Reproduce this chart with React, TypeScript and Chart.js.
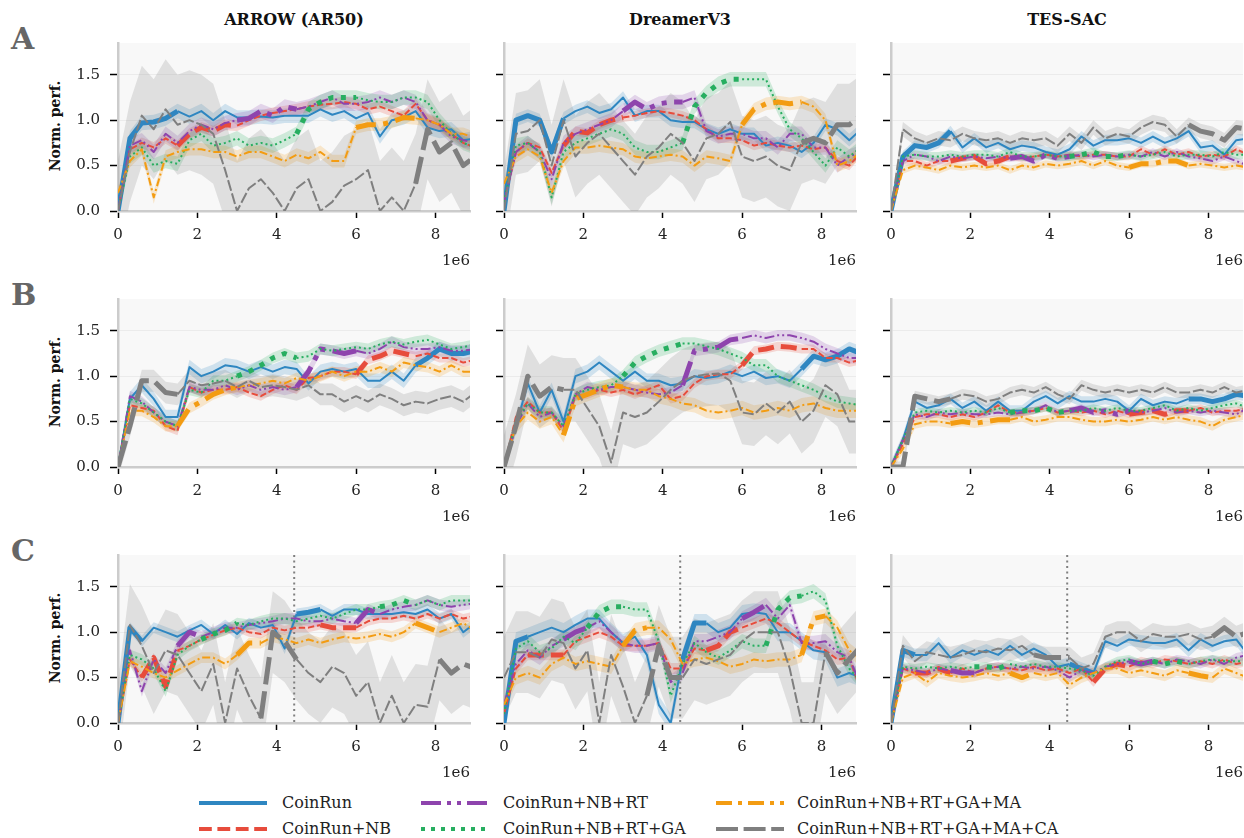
import React, { useEffect, useRef } from "react";
import { Chart, registerables } from "chart.js";

Chart.register(...registerables);

// ---------- data ----------
const XS = [0, 0.3, 0.6, 0.9, 1.2, 1.5, 1.8, 2.1, 2.4, 2.7, 3.0, 3.3, 3.6, 3.9, 4.2, 4.5, 4.8, 5.1, 5.4, 5.7, 6.0, 6.3, 6.6, 6.9, 7.2, 7.5, 7.8, 8.1, 8.4, 8.7, 9.0];
const SERIES_NAMES = ["CoinRun", "CoinRun+NB", "CoinRun+NB+RT", "CoinRun+NB+RT+GA", "CoinRun+NB+RT+GA+MA", "CoinRun+NB+RT+GA+MA+CA"];
const COL_TITLES = ["ARROW (AR50)", "DreamerV3", "TES-SAC"];
const ROW_LABELS = ["A", "B", "C"];
const Y_TICKS = [0, 0.5, 1.0, 1.5];
const X_TICKS = [0, 2, 4, 6, 8];
const SWITCH_X = 4.44;

// order: CoinRun, +NB, +RT, +GA, +MA, +CA
const A1 = [
  [0, 0.8, 0.97, 0.98, 1.02, 1.1, 1.04, 1.1, 1.0, 1.1, 1.03, 1.03, 1.04, 1.03, 1.05, 1.05, 1.05, 1.12, 1.06, 1.1, 1.02, 1.08, 0.82, 1.0, 1.03, 1.1, 0.92, 0.88, 0.9, 0.78, 0.8],
  [0, 0.68, 0.75, 0.7, 0.8, 0.72, 0.85, 0.92, 0.88, 0.95, 0.94, 1.0, 1.05, 1.08, 1.1, 1.12, 1.15, 1.17, 1.18, 1.2, 1.18, 1.12, 1.15, 1.1, 1.05, 1.18, 1.0, 0.95, 0.85, 0.75, 0.7],
  [0, 0.72, 0.78, 0.65, 0.85, 0.75, 0.88, 0.95, 0.9, 0.97, 1.0, 1.02, 1.1, 1.05, 1.15, 1.12, 1.15, 1.2, 1.25, 1.18, 1.18, 1.2, 1.25, 1.2, 1.25, 1.2, 1.0, 0.95, 0.82, 0.78, 0.75],
  [0, 0.6, 0.7, 0.5, 0.55, 0.52, 0.78, 0.85, 0.72, 0.75, 0.8, 0.72, 0.75, 0.72, 0.78, 0.85, 1.12, 1.2, 1.25, 1.25, 1.25, 1.22, 1.2, 1.2, 1.25, 1.25, 1.2, 1.0, 0.85, 0.75, 0.7],
  [0.2, 0.55, 0.68, 0.15, 0.6, 0.65, 0.68, 0.68, 0.65, 0.65, 0.6, 0.65, 0.65, 0.6, 0.55, 0.62, 0.58, 0.65, 0.55, 0.55, 0.92, 0.95, 0.95, 0.98, 1.03, 1.02, 1.0, 0.95, 0.85, 0.85, 0.8],
  [0, 0.65, 1.05, 0.9, 1.12, 0.95, 1.0, 0.95, 0.85, 0.45, 0, 0.25, 0.35, 0.2, 0, 0.25, 0.35, 0, 0.1, 0.28, 0.35, 0.45, 0, 0.15, 0, 0.3, 0.9, 0.65, 0.75, 0.5, 0.6],
];
const A2 = [
  [0, 1.0, 1.05, 1.0, 0.65, 1.02, 1.1, 1.15, 1.08, 1.12, 1.25, 1.05, 1.1, 1.1, 1.0, 0.98, 0.98, 0.9, 0.85, 0.9, 0.85, 0.85, 0.72, 0.75, 0.72, 0.65, 0.75, 0.95, 0.9, 0.78, 0.9],
  [0.1, 0.65, 0.75, 0.7, 0.42, 0.72, 0.88, 0.86, 0.95, 1.0, 1.03, 1.05, 1.08, 1.1, 1.08, 1.05, 1.0, 0.9, 0.8, 0.8, 0.78, 0.72, 0.75, 0.72, 0.7, 0.72, 0.68, 0.7, 0.55, 0.5, 0.65],
  [0.1, 0.65, 0.75, 0.65, 0.35, 0.75, 0.85, 0.9, 0.95, 1.0, 1.1, 1.2, 1.12, 1.18, 1.2, 1.2, 1.25, 0.88, 0.82, 0.85, 0.85, 0.8, 0.8, 0.7, 0.85, 0.85, 0.7, 0.7, 0.5, 0.6, 0.65],
  [0.1, 0.72, 0.75, 0.65, 0.15, 0.65, 0.75, 0.8, 0.85, 0.9, 0.85, 0.7, 0.65, 0.65, 0.7, 0.75, 1.15, 1.3, 1.4, 1.45, 1.45, 1.45, 1.45, 1.15, 0.9, 0.8, 0.65, 0.5, 0.7, 0.6, 0.7],
  [0.3, 0.6, 0.68, 0.6, 0.2, 0.55, 0.7, 0.7, 0.72, 0.7, 0.68, 0.6, 0.58, 0.6, 0.62, 0.6, 0.5, 0.6, 0.58, 0.55, 0.95, 1.12, 1.18, 1.2, 1.18, 1.2, 1.15, 1.0, 0.5, 0.55, 0.65],
  [0, 0.85, 0.88, 1.0, 0.5, 1.0, 0.6, 0.75, 0.85, 0.7, 0.55, 0.4, 0.6, 0.7, 0.85, 0.75, 0.55, 0.8, 0.85, 0.98, 0.6, 0.55, 0.6, 0.5, 0.45, 0.75, 0.8, 0.75, 0.95, 0.95, 1.05],
];
const A3 = [
  [0, 0.6, 0.72, 0.7, 0.75, 0.88, 0.7, 0.8, 0.7, 0.75, 0.68, 0.72, 0.7, 0.65, 0.62, 0.68, 0.82, 0.72, 0.78, 0.78, 0.8, 0.75, 0.82, 0.75, 0.8, 0.88, 0.7, 0.72, 0.62, 0.78, 0.8],
  [0, 0.55, 0.55, 0.5, 0.55, 0.55, 0.58, 0.6, 0.52, 0.55, 0.6, 0.58, 0.6, 0.62, 0.6, 0.62, 0.6, 0.62, 0.62, 0.6, 0.6, 0.68, 0.62, 0.68, 0.62, 0.65, 0.6, 0.62, 0.6, 0.68, 0.62],
  [0, 0.55, 0.62, 0.6, 0.55, 0.6, 0.58, 0.6, 0.58, 0.6, 0.58, 0.6, 0.55, 0.62, 0.58, 0.6, 0.62, 0.6, 0.62, 0.6, 0.62, 0.6, 0.65, 0.6, 0.65, 0.6, 0.58, 0.55, 0.6, 0.55, 0.5],
  [0, 0.6, 0.62, 0.6, 0.6, 0.62, 0.6, 0.62, 0.62, 0.6, 0.65, 0.6, 0.6, 0.62, 0.6, 0.6, 0.62, 0.65, 0.6, 0.6, 0.62, 0.6, 0.62, 0.65, 0.6, 0.62, 0.62, 0.6, 0.65, 0.62, 0.62],
  [0, 0.45, 0.5, 0.48, 0.45, 0.5, 0.48, 0.5, 0.48, 0.5, 0.45, 0.5, 0.48, 0.52, 0.5, 0.52, 0.55, 0.5, 0.55, 0.5, 0.48, 0.52, 0.52, 0.55, 0.55, 0.5, 0.52, 0.5, 0.48, 0.5, 0.48],
  [0, 0.9, 0.8, 0.75, 0.8, 0.78, 0.85, 0.8, 0.78, 0.8, 0.75, 0.8, 0.78, 0.8, 0.72, 0.85, 0.75, 0.92, 0.8, 0.85, 0.82, 0.92, 0.98, 0.95, 0.82, 0.95, 0.88, 0.85, 0.78, 0.92, 0.9],
];
const B1 = [
  [0, 0.75, 0.9, 0.75, 0.55, 0.55, 1.1, 1.0, 1.05, 1.12, 1.1, 1.05, 1.1, 1.05, 1.1, 1.08, 0.92, 1.05, 1.08, 1.05, 1.08, 0.95, 0.95, 1.05, 0.95, 1.12, 1.2, 1.3, 1.25, 1.25, 1.28],
  [0, 0.68, 0.65, 0.62, 0.45, 0.4, 0.88, 0.82, 0.85, 0.85, 0.88, 0.82, 0.78, 0.85, 0.9, 0.85, 0.98, 1.0, 1.05, 1.05, 1.02, 1.18, 1.22, 1.28, 1.25, 1.22, 1.25, 1.2, 1.2, 1.15, 1.18],
  [0, 0.78, 0.72, 0.6, 0.5, 0.45, 0.88, 0.85, 0.85, 0.9, 0.85, 0.9, 0.85, 0.88, 0.85, 0.88, 1.05, 1.3, 1.28, 1.25, 1.28, 1.25, 1.3, 1.38, 1.32, 1.3, 1.3, 1.32, 1.28, 1.28, 1.3],
  [0, 0.75, 0.7, 0.6, 0.5, 0.45, 0.85, 0.82, 0.95, 0.95, 1.0, 1.05, 1.12, 1.2, 1.25, 1.2, 1.22, 1.3, 1.28, 1.3, 1.32, 1.3, 1.35, 1.38, 1.35, 1.38, 1.4, 1.35, 1.3, 1.32, 1.35],
  [0, 0.62, 0.62, 0.55, 0.45, 0.45, 0.65, 0.72, 0.8, 0.85, 0.88, 0.9, 0.92, 0.95, 0.92, 0.98, 0.95, 1.0, 1.05, 1.0, 1.05, 1.05, 1.1, 1.05, 1.15, 1.12, 1.1, 1.05, 1.12, 1.05, 1.05],
  [0, 0.45, 0.95, 0.95, 0.82, 0.8, 0.95, 0.9, 0.92, 0.95, 0.88, 0.95, 0.88, 0.9, 0.88, 0.85, 0.9, 0.8, 0.8, 0.72, 0.78, 0.72, 0.8, 0.75, 0.68, 0.72, 0.7, 0.75, 0.78, 0.72, 0.82],
];
const B2 = [
  [0, 0.45, 0.92, 0.6, 0.85, 0.5, 1.0, 1.05, 1.15, 1.05, 0.95, 1.05, 0.95, 0.95, 0.9, 0.92, 1.0, 0.98, 1.0, 1.05, 1.0, 1.05, 0.98, 1.0, 0.95, 1.08, 1.22, 1.18, 1.22, 1.3, 1.25],
  [0, 0.55, 0.72, 0.6, 0.6, 0.4, 0.78, 0.8, 0.85, 0.82, 0.85, 0.8, 0.85, 0.9, 0.75, 0.78, 0.92, 1.0, 1.02, 1.02, 1.12, 1.28, 1.3, 1.33, 1.32, 1.3, 1.3, 1.2, 1.2, 1.15, 1.18],
  [0, 0.45, 0.7, 0.55, 0.6, 0.45, 0.8, 0.88, 0.85, 0.88, 0.88, 0.85, 0.82, 0.8, 0.82, 0.9, 1.28, 1.3, 1.32, 1.4, 1.42, 1.45, 1.42, 1.45, 1.45, 1.42, 1.38, 1.3, 1.25, 1.2, 1.2],
  [0, 0.5, 0.7, 0.6, 0.6, 0.45, 0.8, 0.85, 0.88, 0.9, 1.0, 1.15, 1.22, 1.28, 1.32, 1.36, 1.36, 1.33, 1.3, 1.25, 1.2, 1.12, 1.12, 1.0, 0.95, 0.9, 0.85, 0.78, 0.72, 0.7, 0.68],
  [0, 0.45, 0.6, 0.5, 0.55, 0.35, 0.75, 0.8, 0.85, 0.9, 0.88, 0.85, 0.85, 0.78, 0.75, 0.7, 0.68, 0.62, 0.6, 0.62, 0.65, 0.6, 0.62, 0.65, 0.62, 0.68, 0.7, 0.65, 0.62, 0.62, 0.62],
  [0, 0.45, 1.0, 0.78, 0.88, 0.85, 0.85, 0.65, 0.45, 0.05, 0.6, 0.55, 0.6, 0.72, 0.85, 0.95, 1.0, 1.02, 1.03, 0.95, 0.6, 0.58, 0.7, 0.6, 0.72, 0.5, 0.62, 0.9, 0.8, 0.5, 0.5],
];
const B3 = [
  [0, 0.3, 0.72, 0.65, 0.68, 0.75, 0.65, 0.72, 0.62, 0.72, 0.62, 0.62, 0.72, 0.78, 0.7, 0.78, 0.72, 0.72, 0.75, 0.72, 0.62, 0.75, 0.68, 0.72, 0.7, 0.75, 0.75, 0.72, 0.75, 0.8, 0.78],
  [0, 0.25, 0.55, 0.58, 0.58, 0.55, 0.58, 0.55, 0.6, 0.68, 0.6, 0.6, 0.62, 0.65, 0.6, 0.62, 0.6, 0.62, 0.58, 0.62, 0.58, 0.6, 0.62, 0.58, 0.62, 0.62, 0.65, 0.6, 0.62, 0.62, 0.65],
  [0, 0.3, 0.58, 0.55, 0.6, 0.58, 0.6, 0.58, 0.58, 0.6, 0.58, 0.6, 0.62, 0.68, 0.6, 0.62, 0.65, 0.6, 0.62, 0.58, 0.62, 0.6, 0.62, 0.65, 0.6, 0.62, 0.6, 0.62, 0.6, 0.58, 0.65],
  [0, 0.3, 0.6, 0.62, 0.6, 0.62, 0.6, 0.62, 0.6, 0.65, 0.6, 0.62, 0.62, 0.65, 0.6, 0.62, 0.62, 0.65, 0.62, 0.65, 0.62, 0.62, 0.65, 0.68, 0.62, 0.65, 0.62, 0.65, 0.68, 0.7, 0.65],
  [0, 0.2, 0.47, 0.5, 0.5, 0.48, 0.5, 0.48, 0.5, 0.52, 0.52, 0.55, 0.5, 0.52, 0.55, 0.55, 0.52, 0.5, 0.5, 0.52, 0.5, 0.52, 0.55, 0.52, 0.55, 0.52, 0.5, 0.45, 0.52, 0.55, 0.58],
  [0, 0, 0.78, 0.75, 0.72, 0.75, 0.8, 0.78, 0.72, 0.75, 0.82, 0.85, 0.82, 0.88, 0.8, 0.75, 0.9, 0.85, 0.82, 0.85, 0.82, 0.85, 0.82, 0.88, 0.82, 0.82, 0.85, 0.82, 0.88, 0.82, 0.85],
];
const C1 = [
  [0, 1.05, 0.9, 1.05, 1.0, 0.95, 1.02, 1.08, 0.98, 1.08, 0.98, 1.1, 1.05, 1.08, 0.82, 1.2, 1.22, 1.25, 1.18, 1.25, 1.25, 1.2, 1.2, 1.2, 1.22, 1.2, 1.25, 1.15, 1.2, 1.0, 1.1],
  [0, 0.7, 0.5, 0.72, 0.4, 0.8, 0.85, 0.92, 0.97, 1.02, 1.05, 1.0, 0.98, 1.05, 1.02, 1.05, 1.05, 1.08, 1.05, 1.05, 1.05, 1.12, 1.15, 1.15, 1.18, 1.15, 1.2, 1.15, 1.2, 1.15, 1.18],
  [0, 0.8, 0.35, 0.7, 0.55, 0.85, 1.0, 0.95, 1.0, 1.05, 1.05, 1.08, 1.1, 1.12, 1.15, 1.15, 1.12, 1.12, 1.15, 1.12, 1.1, 1.25, 1.2, 1.25, 1.28, 1.3, 1.35, 1.3, 1.28, 1.3, 1.32],
  [0, 0.75, 0.7, 0.6, 0.35, 0.75, 0.85, 0.92, 0.98, 1.02, 1.1, 1.08, 1.12, 1.15, 1.15, 1.12, 1.15, 1.18, 1.15, 1.2, 1.25, 1.25, 1.28, 1.3, 1.35, 1.3, 1.35, 1.3, 1.35, 1.35, 1.35],
  [0, 0.68, 0.62, 0.55, 0.5, 0.58, 0.65, 0.72, 0.72, 0.65, 0.75, 0.88, 0.88, 0.95, 0.92, 0.88, 0.92, 0.88, 0.92, 0.95, 0.93, 0.95, 0.98, 0.95, 1.0, 1.1, 1.05, 1.0, 1.05, 1.1, 1.02],
  [0, 1.08, 0.85, 0.55, 0.8, 0.75, 0.55, 0.35, 0.65, 0, 0.6, 0.3, 0.05, 1.0, 0.9, 0.7, 0.55, 0.45, 0.62, 0.55, 0.3, 0.45, 0, 0.3, 0, 0.2, 0.18, 0.7, 0.55, 0.65, 0.6],
];
const C2 = [
  [0, 0.9, 0.95, 1.0, 1.05, 1.0, 1.08, 1.15, 1.15, 1.0, 0.88, 0.95, 0.75, 0.2, 0, 0.7, 1.1, 1.1, 1.0, 1.05, 1.2, 1.22, 1.2, 1.0, 1.0, 0.9, 0.8, 0.78, 0.5, 0.55, 0.5],
  [0.1, 0.6, 0.75, 0.75, 0.75, 0.75, 0.9, 0.95, 1.0, 0.95, 0.85, 0.85, 0.85, 0.88, 0.6, 0.6, 0.82, 0.8, 0.85, 1.0, 1.05, 1.1, 1.15, 1.1, 1.0, 0.9, 0.85, 0.8, 0.7, 0.72, 0.35],
  [0.2, 0.65, 0.8, 0.72, 0.85, 0.92, 1.0, 1.05, 1.12, 1.0, 0.88, 0.85, 0.85, 0.88, 0.45, 0.55, 0.9, 0.9, 0.95, 1.0, 1.15, 1.22, 1.3, 1.15, 1.3, 0.88, 0.88, 0.9, 0.78, 0.72, 0.4],
  [0.1, 0.82, 0.9, 0.78, 0.82, 0.95, 0.88, 1.05, 1.22, 1.28, 1.28, 1.25, 1.25, 0.9, 0.3, 0.65, 0.88, 0.78, 0.72, 0.8, 0.9, 0.85, 0.85, 1.25, 1.38, 1.4, 1.45, 1.35, 0.85, 0.6, 0.45],
  [0.2, 0.5, 0.55, 0.5, 0.65, 0.72, 0.65, 0.68, 0.65, 0.62, 0.85, 1.02, 1.05, 1.05, 0.92, 0.65, 0.7, 0.72, 0.68, 0.62, 0.65, 0.7, 0.68, 0.7, 0.7, 0.75, 1.15, 1.18, 1.05, 0.8, 0.7],
  [0.5, 0.78, 0.78, 0.72, 0.92, 0.88, 0.6, 0.8, 0, 0.75, 0.4, 0, 0.3, 0.85, 0.5, 0.5, 0.7, 0.65, 0.7, 0.75, 0.9, 1.0, 1.0, 1.0, 0.6, 0, 0, 0.78, 0.55, 0.7, 0.85],
];
const C3 = [
  [0, 0.8, 0.75, 0.75, 0.88, 0.72, 0.8, 0.75, 0.8, 0.75, 0.85, 0.75, 0.82, 0.75, 0.62, 0.65, 0.6, 0.55, 0.9, 0.85, 0.92, 0.9, 0.88, 0.88, 0.92, 0.8, 0.92, 0.85, 0.9, 0.92, 0.75],
  [0, 0.6, 0.55, 0.55, 0.6, 0.55, 0.6, 0.55, 0.6, 0.62, 0.6, 0.58, 0.62, 0.58, 0.6, 0.55, 0.6, 0.45, 0.6, 0.65, 0.62, 0.68, 0.65, 0.7, 0.68, 0.65, 0.68, 0.65, 0.7, 0.65, 0.68],
  [0, 0.6, 0.58, 0.55, 0.6, 0.58, 0.55, 0.55, 0.6, 0.62, 0.6, 0.62, 0.6, 0.62, 0.58, 0.5, 0.58, 0.55, 0.62, 0.65, 0.68, 0.65, 0.68, 0.65, 0.7, 0.68, 0.65, 0.7, 0.65, 0.72, 0.75],
  [0, 0.62, 0.6, 0.62, 0.6, 0.62, 0.6, 0.62, 0.62, 0.6, 0.65, 0.62, 0.65, 0.62, 0.62, 0.6, 0.58, 0.52, 0.62, 0.68, 0.7, 0.65, 0.68, 0.65, 0.68, 0.65, 0.68, 0.7, 0.68, 0.68, 0.68],
  [0, 0.5, 0.55, 0.45, 0.55, 0.52, 0.5, 0.52, 0.55, 0.52, 0.55, 0.5, 0.55, 0.52, 0.55, 0.42, 0.5, 0.55, 0.6, 0.6, 0.55, 0.58, 0.55, 0.52, 0.58, 0.55, 0.52, 0.5, 0.6, 0.55, 0.5],
  [0, 0.85, 0.68, 0.78, 0.75, 0.72, 0.75, 0.8, 0.78, 0.82, 0.8, 0.85, 0.75, 0.72, 0.72, 0.72, 0.6, 0.65, 0.95, 1.0, 1.0, 0.9, 0.98, 0.95, 0.95, 0.98, 0.92, 0.95, 1.05, 0.95, 1.0],
];

// half-width of the shaded band per series
const A1_SPREAD = [0.08, 0.06, 0.08, 0.08, 0.07, 0.55];
const A2_SPREAD = [0.07, 0.05, 0.08, 0.08, 0.07, 0.45];
const A3_SPREAD = [0.06, 0.04, 0.04, 0.05, 0.04, 0.08];
const B1_SPREAD = [0.08, 0.05, 0.06, 0.06, 0.06, 0.12];
const B2_SPREAD = [0.08, 0.05, 0.06, 0.07, 0.08, 0.35];
const B3_SPREAD = [0.06, 0.04, 0.04, 0.04, 0.05, 0.06];
const C1_SPREAD = [0.06, 0.05, 0.06, 0.06, 0.06, 0.45];
const C2_SPREAD = [0.1, 0.06, 0.08, 0.08, 0.08, 0.45];
const C3_SPREAD = [0.07, 0.05, 0.05, 0.05, 0.06, 0.12];

// training period of each task (drawn thick)
const SCHED_A = [[[0, 1.48]], [[1.48, 2.96]], [[2.96, 4.44]], [[4.44, 5.92]], [[5.92, 7.4]], [[7.4, 9.1]]];
const SCHED_B = [[[7.4, 9.1]], [[5.92, 7.4]], [[4.44, 5.92]], [[2.96, 4.44]], [[1.48, 2.96]], [[0, 1.48]]];
const SCHED_C = [
  [[0, 0.74], [4.44, 5.18]],
  [[0.74, 1.48], [5.18, 5.92]],
  [[1.48, 2.22], [5.92, 6.66]],
  [[2.22, 2.96], [6.66, 7.4]],
  [[2.96, 3.7], [7.4, 8.14]],
  [[3.7, 4.44], [8.14, 9.1]],
];

// ---------- style ----------
const COLORS = ["#2e86c1", "#e74c3c", "#8e44ad", "#27ae60", "#f39c12", "#7f7f7f"];
const DASHES = [[], [3.2, 1.4], [5, 1.5, 1, 1.5, 1, 1.5], [1, 1.5], [4, 1.5, 1, 1.5], [5.5, 1.4]];
const FONT = "'DejaVu Serif', serif";
const AREA_LEFT = [118, 504, 891];
const AREA_TOP = [41, 297, 553];
const AREA_W = 352;
const AREA_H = 170;
const PAD_L = 70, PAD_T = 6, PAD_R = 6, PAD_B = 44;
const TOP_EXTRA = 17; // measured offset between container top and plot area top
const X_MAX = 8.87, Y_MAX = 1.85;
const THIN = 2, THICK = 5;

const PANELS = [
  { row: 0, col: 0, curves: A1, spread: A1_SPREAD, sched: SCHED_A },
  { row: 0, col: 1, curves: A2, spread: A2_SPREAD, sched: SCHED_A },
  { row: 0, col: 2, curves: A3, spread: A3_SPREAD, sched: SCHED_A },
  { row: 1, col: 0, curves: B1, spread: B1_SPREAD, sched: SCHED_B },
  { row: 1, col: 1, curves: B2, spread: B2_SPREAD, sched: SCHED_B },
  { row: 1, col: 2, curves: B3, spread: B3_SPREAD, sched: SCHED_B },
  { row: 2, col: 0, curves: C1, spread: C1_SPREAD, sched: SCHED_C },
  { row: 2, col: 1, curves: C2, spread: C2_SPREAD, sched: SCHED_C },
  { row: 2, col: 2, curves: C3, spread: C3_SPREAD, sched: SCHED_C },
];

function hexA(hex: string, a: number) {
  const r = parseInt(hex.slice(1, 3), 16), g = parseInt(hex.slice(3, 5), 16), b = parseInt(hex.slice(5, 7), 16);
  return `rgba(${r},${g},${b},${a})`;
}

const bgPlugin = {
  id: "panelBg",
  beforeDraw(chart: any) {
    const { ctx, chartArea: a } = chart;
    ctx.save();
    ctx.fillStyle = "#f8f8f8";
    ctx.fillRect(a.left, a.top, a.right - a.left, a.bottom - a.top);
    ctx.restore();
  },
};

function Panel({ p }: { p: any }) {
  const ref = useRef<HTMLCanvasElement>(null);
  useEffect(() => {
    const { row, col, curves, spread, sched } = p;
    const datasets: any[] = [];
    curves.forEach((ys: number[], k: number) => {
      datasets.push({
        data: ys.map((y, i) => ({ x: XS[i], y: y - spread[k] })),
        borderColor: "rgba(0,0,0,0)", borderWidth: 0, pointRadius: 0, fill: false, order: 20 + (5 - k),
      });
      datasets.push({
        data: ys.map((y, i) => ({ x: XS[i], y: y + spread[k] })),
        borderColor: "rgba(0,0,0,0)", borderWidth: 0, pointRadius: 0, fill: "-1",
        backgroundColor: hexA(COLORS[k], 0.2), order: 20 + (5 - k),
      });
    });
    curves.forEach((ys: number[], k: number) => {
      const ranges = sched[k];
      const active = (ctx: any) => {
        const m = (ctx.p0.parsed.x + ctx.p1.parsed.x) / 2;
        return ranges.some(([a, b]: number[]) => m >= a && m < b);
      };
      datasets.push({
        data: ys.map((y, i) => ({ x: XS[i], y })),
        borderColor: COLORS[k], borderWidth: THIN, borderDash: DASHES[k].map((d) => d * THIN),
        pointRadius: 0, fill: false, order: 5 - k, borderJoinStyle: "round", tension: 0,
        segment: {
          borderWidth: (ctx: any) => (active(ctx) ? THICK : THIN),
          borderDash: (ctx: any) => DASHES[k].map((d) => d * (active(ctx) ? THICK : THIN)),
        },
      });
    });
    const plugins: any[] = [bgPlugin];
    if (row === 2) {
      plugins.push({
        id: "switchLine",
        beforeDatasetsDraw(chart: any) {
          const { ctx, chartArea: a, scales } = chart;
          const x = scales.x.getPixelForValue(SWITCH_X);
          ctx.save();
          ctx.strokeStyle = "#808080";
          ctx.lineWidth = 2;
          ctx.setLineDash([2, 3.5]);
          ctx.beginPath();
          ctx.moveTo(x, a.top);
          ctx.lineTo(x, a.bottom);
          ctx.stroke();
          ctx.restore();
        },
      });
    }
    const chart = new Chart(ref.current as HTMLCanvasElement, {
      type: "line",
      data: { datasets },
      plugins,
      options: {
        animation: false,
        responsive: true,
        maintainAspectRatio: false,
        events: [],
        layout: { padding: { left: 0, top: PAD_T, right: PAD_R, bottom: 0 }, autoPadding: false },
        plugins: { legend: { display: false }, tooltip: { enabled: false }, title: { display: false } },
        scales: {
          x: {
            type: "linear", min: 0, max: X_MAX,
            afterFit: (s: any) => { s.height = PAD_B; },
            afterBuildTicks: (s: any) => { s.ticks = X_TICKS.map((v) => ({ value: v })); },
            ticks: { font: { family: FONT, size: 15 }, color: "#222", padding: 8, maxRotation: 0, autoSkip: false, callback: (v: any) => String(v) },
            grid: { drawOnChartArea: false, drawTicks: true, tickLength: 7, tickColor: "#000", tickWidth: 1.5 },
            border: { display: true, color: "#cccccc", width: 2.5 },
          },
          y: {
            type: "linear", min: 0, max: Y_MAX,
            afterFit: (s: any) => { s.width = PAD_L; },
            afterBuildTicks: (s: any) => { s.ticks = Y_TICKS.map((v) => ({ value: v })); },
            ticks: { font: { family: FONT, size: 15 }, color: "#222", padding: 10, autoSkip: false, callback: (v: any) => (col === 0 ? Number(v).toFixed(1) : "") },
            grid: {
              color: (ctx: any) => (ctx.tick && ctx.tick.value === 0 ? "rgba(0,0,0,0)" : "#ebebeb"),
              lineWidth: 1, drawTicks: true, tickLength: 8, tickColor: "#000", tickWidth: 1.5,
            },
            border: { display: true, color: "#cccccc", width: 2.5 },
          },
        },
      } as any,
    });
    return () => chart.destroy();
  }, [p]);
  const { row, col } = p;
  return (
    <div style={{ position: "absolute", left: AREA_LEFT[col] - PAD_L, top: AREA_TOP[row] - TOP_EXTRA, width: PAD_L + AREA_W + PAD_R, height: TOP_EXTRA + AREA_H + PAD_B }}>
      <canvas ref={ref} />
    </div>
  );
}

function LegendItem({ k, left, textLeft, cy }: { k: number; left: number; textLeft: number; cy: number }) {
  const dash = DASHES[k].map((d) => d * 4).join(" ");
  return (
    <>
      <svg style={{ position: "absolute", left, top: cy - 5 }} width={68} height={10}>
        <line x1={0} y1={5} x2={68} y2={5} stroke={COLORS[k]} strokeWidth={4} strokeDasharray={dash || undefined} />
      </svg>
      <div style={{ position: "absolute", left: textLeft, top: cy - 10, font: `16px ${FONT}`, lineHeight: "20px", whiteSpace: "nowrap", color: "#222" }}>
        {SERIES_NAMES[k]}
      </div>
    </>
  );
}

const LEGEND_COL_X = [199, 421, 716];
const LEGEND_TEXT_X = [282, 503, 797];
const LEGEND_ROW_Y = [803, 829];

export default function App() {
  return (
    <div style={{ position: "absolute", left: 0, top: 0, width: 1244, height: 838, background: "#fff", overflow: "hidden", fontFamily: FONT }}>
      {COL_TITLES.map((t, c) => (
        <div key={t} style={{ position: "absolute", left: AREA_LEFT[c], width: AREA_W, top: 11, textAlign: "center", font: `bold 16px ${FONT}`, lineHeight: "18px", color: "#111" }}>{t}</div>
      ))}
      {ROW_LABELS.map((t, r) => (
        <div key={t} style={{ position: "absolute", left: 11, top: AREA_TOP[r] - 17, font: `bold 30px ${FONT}`, lineHeight: "30px", color: "#666" }}>{t}</div>
      ))}
      {ROW_LABELS.map((t, r) => (
        <div key={"yl" + t} style={{ position: "absolute", left: 55 - 100, top: AREA_TOP[r] + AREA_H / 2 - 10, width: 200, height: 20, textAlign: "center", font: `bold 14px ${FONT}`, lineHeight: "20px", transform: "rotate(-90deg)", color: "#111" }}>Norm. perf.</div>
      ))}
      {PANELS.map((p, i) => (
        <Panel key={i} p={p} />
      ))}
      {PANELS.map((p, i) => (
        <div key={"e" + i} style={{ position: "absolute", left: AREA_LEFT[p.col] + AREA_W - 100, width: 100, top: AREA_TOP[p.row] + AREA_H + 41, textAlign: "right", font: `15px ${FONT}`, lineHeight: "16px", color: "#222" }}>1e6</div>
      ))}
      {SERIES_NAMES.map((_, k) => (
        <LegendItem key={k} k={k} left={LEGEND_COL_X[Math.floor(k / 2)]} textLeft={LEGEND_TEXT_X[Math.floor(k / 2)]} cy={LEGEND_ROW_Y[k % 2]} />
      ))}
    </div>
  );
}
